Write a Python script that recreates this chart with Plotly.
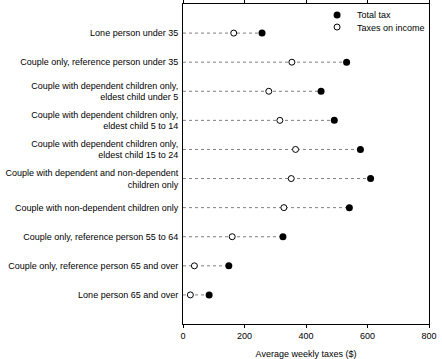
import plotly.graph_objects as go

# household types, top to bottom
categories = [
    "Lone person under 35",
    "Couple only, reference person under 35",
    "Couple with dependent children only,<br>eldest child under 5",
    "Couple with dependent children only,<br>eldest child 5 to 14",
    "Couple with dependent children only,<br>eldest child 15 to 24",
    "Couple with dependent and non-dependent<br>children only",
    "Couple with non-dependent children only",
    "Couple only, reference person 55 to 64",
    "Couple only, reference person 65 and over",
    "Lone person 65 and over",
]
total_tax = [257, 532, 449, 492, 577, 610, 541, 325, 149, 85]
taxes_on_income = [165, 354, 279, 315, 366, 352, 328, 160, 37, 24]
x_ticks = [0, 200, 400, 600, 800]

# dashed guide from zero to each total
line_x, line_y = [], []
for cat, tot in zip(categories, total_tax):
    line_x += [0, tot, None]
    line_y += [cat, cat, None]

fig = go.Figure()
fig.add_trace(go.Scatter(x=line_x, y=line_y, mode="lines", showlegend=False, hoverinfo="skip",
                         line=dict(color="#808080", width=1, dash="3px,3px")))
fig.add_trace(go.Scatter(x=total_tax, y=categories, mode="markers", name="Total tax",
                         legend="legend",
                         marker=dict(symbol="circle", size=7, color="black")))
fig.add_trace(go.Scatter(x=taxes_on_income, y=categories, mode="markers", name="Taxes on income",
                         legend="legend2",
                         marker=dict(symbol="circle", size=6, color="white",
                                     line=dict(color="black", width=1))))

leg = dict(xanchor="left", yanchor="middle", bgcolor="rgba(0,0,0,0)",
           font=dict(size=9), itemwidth=30)

fig.update_layout(
    template="none",
    width=442, height=359,
    margin=dict(l=183, r=13, t=4, b=35, autoexpand=False),
    paper_bgcolor="white", plot_bgcolor="white",
    font=dict(family="Liberation Sans, Arial, sans-serif", size=9, color="black"),
    legend=dict(x=0.545, y=0.966, **leg),
    legend2=dict(x=0.545, y=0.928, **leg),
    xaxis=dict(range=[0, 800], tickvals=x_ticks, showgrid=False, zeroline=False,
               showline=True, linecolor="black", linewidth=1, mirror="allticks",
               ticks="outside", ticklen=3, tickcolor="black", automargin=False,
               title=dict(text="Average weekly taxes ($)", font=dict(size=9))),
    yaxis=dict(type="category", categoryorder="array", categoryarray=categories,
               range=[10, -1], showgrid=False, zeroline=False, automargin=False,
               showline=True, linecolor="black", linewidth=1, mirror=True,
               ticks="", ticklabelstandoff=2),
)

# drop the default 8px page margin so the figure sits at the window corner
fig.write_html("out.html", config={"displayModeBar": False},
               post_script="document.body.style.margin='0';")
